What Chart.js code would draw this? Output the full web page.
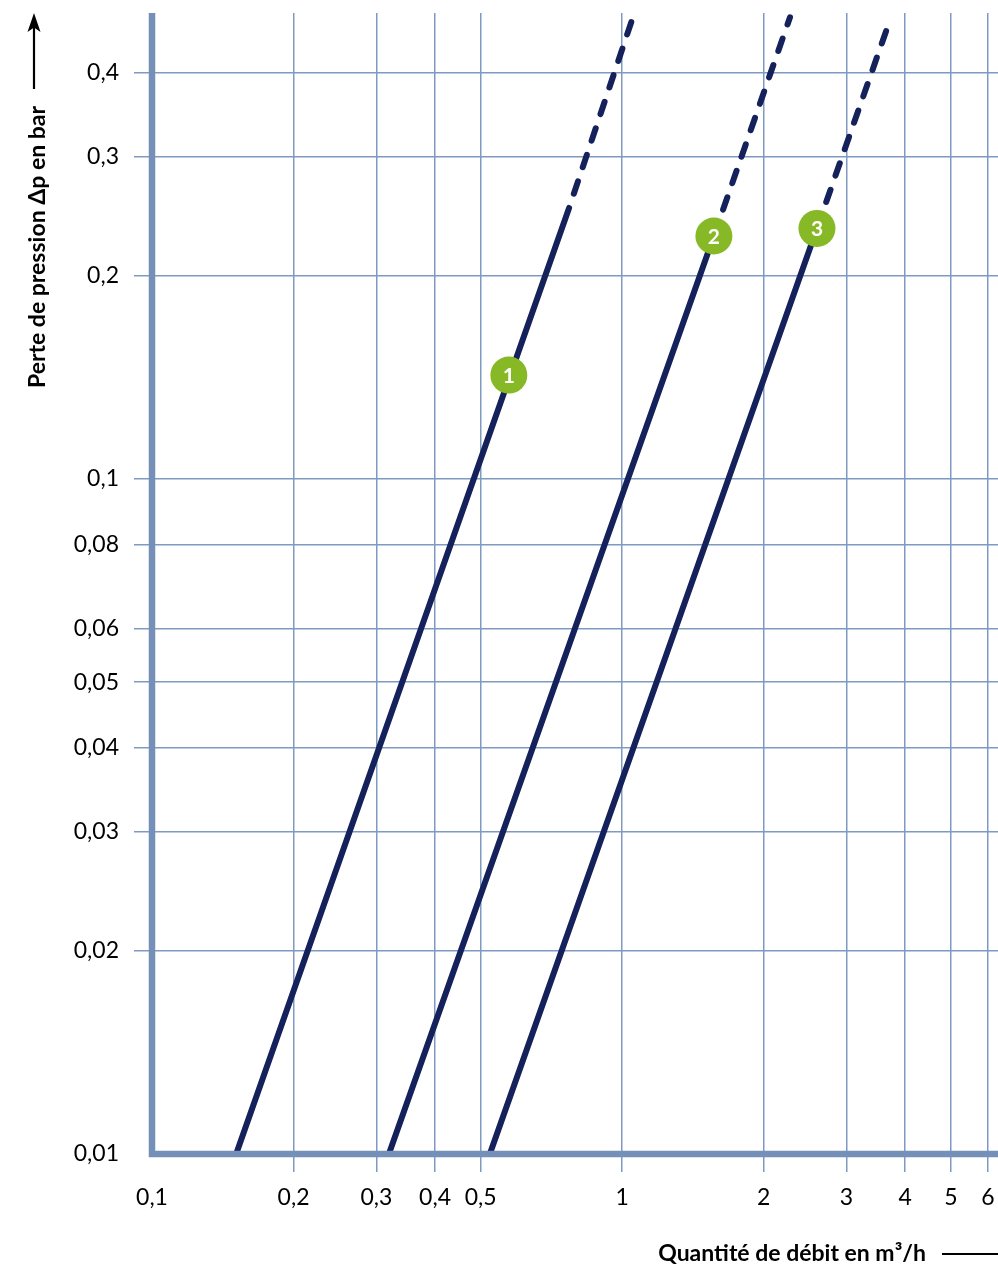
<!DOCTYPE html>
<html lang="fr">
<head>
<meta charset="UTF-8">
<title>Perte de pression</title>
<script src="https://cdn.jsdelivr.net/npm/chart.js"></script>
<style>
  html, body { margin: 0; padding: 0; background: #fff; }
  canvas { display: block; }
</style>
</head>
<body>
<canvas id="lossChart" width="998" height="1267"></canvas>
<script>
// values (Q in m3/h, dp in bar)
const curveLabels = ['1', '2', '3'];
const dpMin = 0.01;
const flowAtMin = [0.151, 0.319, 0.523];     // where each curve leaves 0,01 bar
const flowAtBreak = [0.771, 1.567, 2.596];   // end of the solid part
const dpAtBreak = [0.252, 0.229, 0.235];
const flowAtEnd = [1.054, 2.275, 3.73];      // end of the dashed part
const dpAtEnd = [0.483, 0.483, 0.483];
const markerFlow = [0.574, 1.567, 2.596];
const markerDp = [0.1425, 0.229, 0.235];

const xTicks = [0.1, 0.2, 0.3, 0.4, 0.5, 1, 2, 3, 4, 5, 6];
const yTicks = [0.01, 0.02, 0.03, 0.04, 0.05, 0.06, 0.08, 0.1, 0.2, 0.3, 0.4];
const xRange = [0.1, 6.3];
const yRange = [0.01, 0.49];

// styling
const navy = '#14215b';
const green = '#86b925';
const axisBlue = '#7490b9';
const gridBlue = '#7f99c2';
const dashOffset = [13, 0, 0];
const fontFamily = "Lato, 'Open Sans', sans-serif";

Chart.defaults.font.family = fontFamily;
Chart.defaults.color = '#000';

const fmt = v => String(v).replace('.', ',');

const curveSets = curveLabels.map((name, i) => ({
    label: 'Courbe ' + name,
    data: [
        { x: flowAtMin[i], y: dpMin },
        { x: flowAtBreak[i], y: dpAtBreak[i] },
        { x: flowAtEnd[i], y: dpAtEnd[i] }
    ],
    borderColor: navy,
    borderWidth: 6,
    borderCapStyle: 'round',
    pointRadius: 0,
    tension: 0,
    order: 1,
    segment: {
        borderDash: c => c.p0DataIndex === 1 ? [13, 15] : [],
        borderDashOffset: c => c.p0DataIndex === 1 ? dashOffset[i] : 0
    }
}));

const markerSet = {
    label: 'repères',
    data: markerFlow.map((q, i) => ({ x: q, y: markerDp[i] })),
    showLine: false,
    pointRadius: 18.5,
    pointHoverRadius: 18.5,
    pointBackgroundColor: green,
    pointBorderWidth: 0,
    order: 0
};

// numbers in the dots, thick axes and the two axis titles
const decorations = {
    id: 'decorations',
    afterDatasetsDraw(chart) {
        const ctx = chart.ctx;
        const a = chart.chartArea;
        ctx.save();

        const meta = chart.getDatasetMeta(0);
        ctx.fillStyle = '#fff';
        ctx.font = 'bold 21px ' + fontFamily;
        ctx.textAlign = 'center';
        ctx.textBaseline = 'middle';
        meta.data.forEach((pt, i) => ctx.fillText(curveLabels[i], pt.x, pt.y + 1));

        ctx.strokeStyle = axisBlue;
        ctx.lineWidth = 6.5;
        ctx.lineCap = 'butt';
        ctx.lineJoin = 'miter';
        ctx.beginPath();
        ctx.moveTo(a.left, a.top);
        ctx.lineTo(a.left, a.bottom);
        ctx.lineTo(a.right + 4, a.bottom);
        ctx.stroke();

        // x title with trailing rule
        ctx.fillStyle = '#000';
        ctx.strokeStyle = '#000';
        ctx.font = 'bold 23px ' + fontFamily;
        ctx.textAlign = 'right';
        ctx.textBaseline = 'alphabetic';
        ctx.fillText('Quantité de débit en m³/h', 926, 1260.5);
        ctx.lineWidth = 2.2;
        ctx.beginPath();
        ctx.moveTo(942, 1254);
        ctx.lineTo(998, 1254);
        ctx.stroke();

        // y title with arrow
        ctx.beginPath();
        ctx.moveTo(34, 89);
        ctx.lineTo(34, 26);
        ctx.stroke();
        ctx.beginPath();
        ctx.moveTo(34, 13);
        ctx.lineTo(40.5, 32);
        ctx.lineTo(34, 27.5);
        ctx.lineTo(27.5, 32);
        ctx.closePath();
        ctx.fill();

        ctx.translate(44.5, 247);
        ctx.rotate(-Math.PI / 2);
        ctx.textAlign = 'center';
        ctx.fillText('Perte de pression Δp en bar', 0, 0);
        ctx.restore();
    }
};

const hideAtMin = (min) => c => (c.tick && c.tick.value === min) ? 'rgba(0,0,0,0)' : gridBlue;

new Chart(document.getElementById('lossChart'), {
    type: 'line',
    data: { datasets: [markerSet, ...curveSets] },
    options: {
        responsive: false,
        animation: false,
        events: [],
        layout: { autoPadding: false, padding: { top: 13, right: 0, bottom: 0, left: 0 } },
        plugins: { legend: { display: false }, tooltip: { enabled: false } },
        scales: {
            x: {
                type: 'logarithmic',
                min: xRange[0],
                max: xRange[1],
                border: { display: false },
                grid: {
                    color: hideAtMin(xRange[0]),
                    tickColor: hideAtMin(xRange[0]),
                    lineWidth: 1.5,
                    tickLength: 18
                },
                ticks: {
                    autoSkip: false,
                    maxRotation: 0,
                    padding: 12,
                    font: { size: 23 },
                    callback: v => fmt(v)
                },
                afterBuildTicks: s => { s.ticks = xTicks.map(v => ({ value: v })); },
                afterFit: s => { s.height = 113; s.paddingLeft = 0; s.paddingRight = 0; }
            },
            y: {
                type: 'logarithmic',
                min: yRange[0],
                max: yRange[1],
                border: { display: false },
                grid: {
                    color: hideAtMin(yRange[0]),
                    tickColor: hideAtMin(yRange[0]),
                    lineWidth: 1.5,
                    tickLength: 18
                },
                ticks: {
                    autoSkip: false,
                    padding: 15,
                    font: { size: 23 },
                    callback: v => fmt(v)
                },
                afterBuildTicks: s => { s.ticks = yTicks.map(v => ({ value: v })); },
                afterFit: s => { s.width = 152; s.paddingTop = 0; s.paddingBottom = 0; }
            }
        }
    },
    plugins: [decorations]
});
</script>
</body>
</html>
